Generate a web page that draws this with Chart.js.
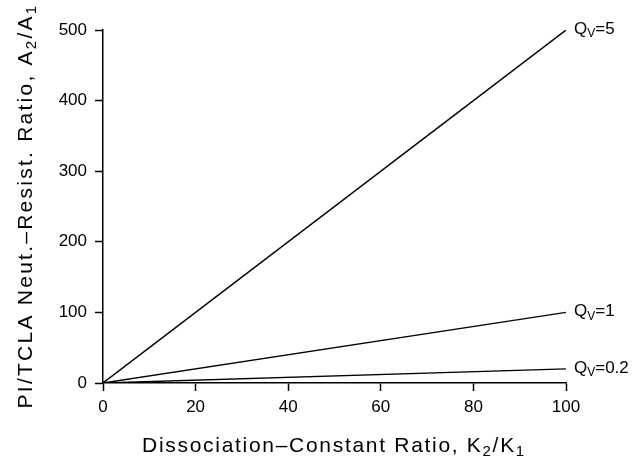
<!DOCTYPE html>
<html>
<head>
<meta charset="utf-8">
<script src="https://cdn.jsdelivr.net/npm/chart.js@4"></script>
<style>
  html, body { margin: 0; background: #fff; }
</style>
</head>
<body>
<canvas id="chart" width="632" height="459"></canvas>
<script>
// data
const ratioK = [0, 100];
const seriesQ5 = [0, 500];
const seriesQ1 = [0, 100];
const seriesQ02 = [0, 20];
const seriesLabels = ["Q_V=5", "Q_V=1", "Q_V=0.2"];
const xTitle = "Dissociation–Constant Ratio, K_2/K_1";
const yTitle = "PI/TCLA Neut.–Resist. Ratio, A_2/A_1";

const FONT = "'Liberation Sans', Arial, Helvetica, sans-serif";

function toPoints(ys) {
  return ratioK.map((x, i) => ({ x: x, y: ys[i] }));
}

// split "K_2" style strings into normal / subscript parts
function parseRich(str) {
  const parts = [];
  let buf = "";
  for (let i = 0; i < str.length; i++) {
    if (str[i] === "_" && i + 1 < str.length) {
      if (buf) parts.push({ t: buf, sub: false });
      buf = "";
      parts.push({ t: str[i + 1], sub: true });
      i++;
    } else {
      buf += str[i];
    }
  }
  if (buf) parts.push({ t: buf, sub: false });
  return parts;
}

function drawRich(ctx, str, x, y, size, align, spacing) {
  const parts = parseRich(str);
  const subSize = Math.round(size * 0.72);
  ctx.letterSpacing = spacing + "px";
  let total = 0;
  parts.forEach((p) => {
    ctx.font = `${p.sub ? subSize : size}px ${FONT}`;
    p.w = ctx.measureText(p.t).width;
    total += p.w;
  });
  let cx = align === "center" ? x - total / 2 : x;
  ctx.textAlign = "left";
  ctx.textBaseline = "middle";
  parts.forEach((p) => {
    ctx.font = `${p.sub ? subSize : size}px ${FONT}`;
    ctx.fillText(p.t, cx, p.sub ? y + size * 0.3 : y);
    cx += p.w;
  });
  ctx.letterSpacing = "0px";
}

const labelPlugin = {
  id: "labels",
  afterDraw(chart) {
    const ctx = chart.ctx;
    ctx.save();
    ctx.fillStyle = "#000";

    chart.data.datasets.forEach((ds, i) => {
      const meta = chart.getDatasetMeta(i);
      const last = meta.data[meta.data.length - 1];
      drawRich(ctx, seriesLabels[i], last.x + 8, last.y - 1, 17, "left", 0);
    });

    drawRich(ctx, xTitle, 334, 446, 21, "center", 1.7);

    ctx.translate(26, 206);
    ctx.rotate(-Math.PI / 2);
    drawRich(ctx, yTitle, 0, 0, 21, "center", 2.25);
    ctx.restore();
  },
};

const lineStyle = {
  borderColor: "#000",
  borderWidth: 1.4,
  pointRadius: 0,
  fill: false,
  tension: 0,
};

new Chart(document.getElementById("chart").getContext("2d"), {
  type: "line",
  data: {
    datasets: [
      { label: seriesLabels[0], data: toPoints(seriesQ5), ...lineStyle },
      { label: seriesLabels[1], data: toPoints(seriesQ1), ...lineStyle },
      { label: seriesLabels[2], data: toPoints(seriesQ02), ...lineStyle },
    ],
  },
  options: {
    responsive: false,
    animation: false,
    layout: { padding: { top: 30, right: 66, left: 0, bottom: 0 } },
    plugins: { legend: { display: false }, tooltip: { enabled: false } },
    scales: {
      x: {
        type: "linear",
        min: 0,
        max: 100,
        ticks: { stepSize: 20, color: "#000", font: { family: FONT, size: 17 }, padding: 6, maxRotation: 0 },
        grid: { drawOnChartArea: false, tickLength: 8, tickColor: "#000", tickWidth: 1.5 },
        border: { color: "#000", width: 1.5 },
        afterFit: (s) => { s.height = 76; },
      },
      y: {
        min: 0,
        max: 500,
        ticks: { stepSize: 100, color: "#000", font: { family: FONT, size: 17 }, padding: 8 },
        grid: { drawOnChartArea: false, tickLength: 8, tickColor: "#000", tickWidth: 1.5 },
        border: { color: "#000", width: 1.5 },
        afterFit: (s) => { s.width = 103; },
      },
    },
  },
  plugins: [labelPlugin],
});
</script>
</body>
</html>
